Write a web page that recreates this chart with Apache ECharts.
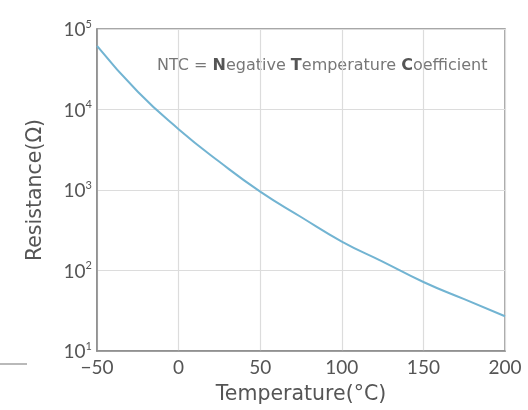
<!DOCTYPE html>
<html><head><meta charset="utf-8">
<script src="https://cdn.jsdelivr.net/npm/echarts@6/dist/echarts.min.js"></script>
<style>html,body{margin:0;padding:0;background:#fff}#c{width:528px;height:410px}</style>
</head><body><div id="c"></div>
<script>
const temperatures = [-50, -25, 0, 25, 50, 75, 100, 125, 150, 175, 200];
const resistance = [61700, 16600, 5700, 2240, 955, 462, 229, 129, 72, 44, 27];
const xTicks = [-50, 0, 50, 100, 150, 200];
const yExponents = [1, 2, 3, 4, 5];
const xName = 'Temperature(°C)';
const yName = 'Resistance(Ω)';
const note = ['NTC = ', 'N', 'egative ', 'T', 'emperature ', 'C', 'oefficient'];

const FONT = 'Lato';
const NFONT = 'DejaVu Sans';
const chart = echarts.init(document.getElementById('c'), null, {renderer: 'canvas'});
chart.setOption({
  animation: false,
  backgroundColor: '#fff',
  grid: {left: 97, right: 23, top: 29, bottom: 59, show: true, borderColor: '#8a8a8a', borderWidth: 1.5, backgroundColor: 'transparent'},
  xAxis: {
    type: 'value', min: xTicks[0], max: xTicks[xTicks.length - 1], interval: 50,
    name: xName, nameLocation: 'middle', nameGap: 33,
    nameTextStyle: {fontFamily: NFONT, fontSize: 20.5, color: '#555'},
    axisLine: {show: true, onZero: false, lineStyle: {color: '#8a8a8a', width: 1.5}},
    axisTick: {show: false},
    axisLabel: {fontFamily: FONT, fontSize: 19, color: '#555', margin: 7,
      formatter: v => String(v).replace('-', '\u2212')},
    splitLine: {show: true, lineStyle: {color: '#dcdcdc', width: 1.2}}
  },
  yAxis: {
    type: 'log', logBase: 10, min: Math.pow(10, yExponents[0]), max: Math.pow(10, yExponents[yExponents.length - 1]),
    name: yName, nameLocation: 'middle', nameGap: 51, nameRotate: 90,
    nameTextStyle: {fontFamily: NFONT, fontSize: 20.5, color: '#555'},
    axisLine: {show: true, onZero: false, lineStyle: {color: '#8a8a8a', width: 1.5}},
    axisTick: {show: false},
    axisLabel: {
      margin: 5,
      formatter: v => '{b|10}{s|' + Math.round(Math.log10(v)) + '}',
      rich: {
        b: {fontFamily: FONT, fontSize: 19, color: '#555', verticalAlign: 'bottom'},
        s: {fontFamily: FONT, fontSize: 11, color: '#555', verticalAlign: 'top', padding: [0, 0, 10, 0]}
      }
    },
    splitLine: {show: true, lineStyle: {color: '#dcdcdc', width: 1.2}}
  },
  series: [{
    type: 'line', smooth: 0.5, symbol: 'none',
    data: temperatures.map((t, i) => [t, resistance[i]]),
    lineStyle: {color: '#72b4d2', width: 2}
  }],
  graphic: [
    {type: 'text', left: 157, top: 58, style: {
      text: note.map((s, i) => (i % 2 === 1 ? '{k|' : '{n|') + s + '}').join(''),
      rich: {
        n: {fontFamily: NFONT, fontSize: 16, fill: '#777'},
        k: {fontFamily: NFONT, fontSize: 16, fill: '#555', fontWeight: 'bold'}
      }
    }},
    {type: 'line', shape: {x1: 0, y1: 364, x2: 27, y2: 364}, style: {stroke: '#8a8a8a', lineWidth: 1.2}}
  ]
});
</script></body></html>
